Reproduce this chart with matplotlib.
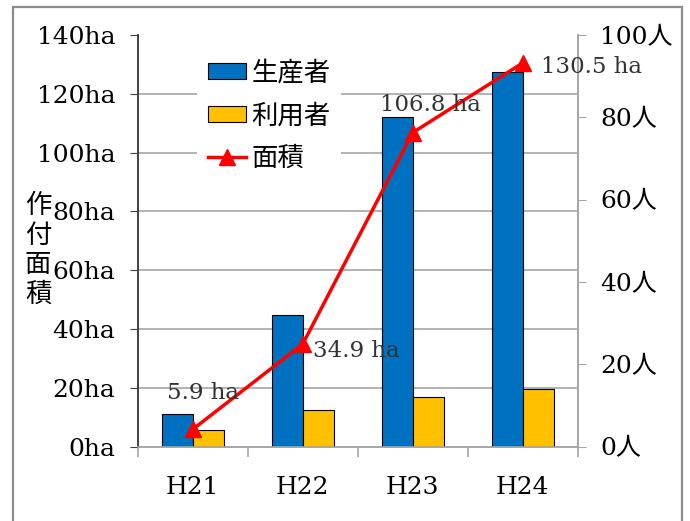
import numpy as np
import matplotlib
matplotlib.use('Agg')
import matplotlib.pyplot as plt
from matplotlib.patches import Rectangle

plt.rcParams['font.family'] = ['DejaVu Serif', 'Noto Sans CJK JP']

# data
years = ['H21', 'H22', 'H23', 'H24']
producers = [8, 32, 80, 91]      # 人
users = [4, 9, 12, 14]           # 人
area = [5.9, 34.9, 106.8, 130.5]  # ha

ha_ticks = np.arange(0, 141, 20)
ppl_ticks = np.arange(0, 101, 20)
ha_max = 140
ppl_max = 100

blue = '#0070C0'
yellow = '#FFC000'
red = '#FF0000'
grid_c = '#A6A6A6'

fig = plt.figure(figsize=(6.9, 5.21), dpi=100)
ax = fig.add_axes([0.1996, 0.1426, 0.6377, 0.7902])
ax_ha = ax.twinx()

x = np.arange(len(years))
w = 0.28

# bars on the people axis (right side)
b1 = ax.bar(x - w / 2, producers, w, color=blue, edgecolor='black', linewidth=0.8, zorder=3, label='生産者')
b2 = ax.bar(x + w / 2, users, w, color=yellow, edgecolor='black', linewidth=0.8, zorder=3, label='利用者')
ax.set_ylim(0, ppl_max)
ax.set_xlim(-0.5, len(years) - 0.5)
ax.yaxis.tick_right()
ax.set_yticks(ppl_ticks)
ax.set_yticklabels([f'{v}人' for v in ppl_ticks], fontsize=18)
# gridlines follow the ha scale
ax.set_yticks(ha_ticks * ppl_max / ha_max, minor=True)
ax.grid(which='minor', axis='y', color=grid_c, linewidth=1.2, zorder=0)
ax.tick_params(axis='y', which='minor', length=0)
ax.tick_params(axis='y', which='major', direction='out', length=6, color=grid_c, pad=10)
ax.set_axisbelow(True)

ax.set_xticks(x)
ax.set_xticklabels(years, fontsize=18)
ax.set_xticks(np.arange(-0.5, len(years)), minor=True)
ax.tick_params(axis='x', which='major', length=0, pad=21)
ax.tick_params(axis='x', which='minor', length=7, color=grid_c, width=1.2)

# line on the ha axis (left side)
ln, = ax_ha.plot(x, area, color=red, linewidth=2.5, marker='^', markersize=12, label='面積', zorder=5)
ax_ha.set_ylim(0, ha_max)
ax_ha.yaxis.tick_left()
ax_ha.set_yticks(ha_ticks)
ax_ha.set_yticklabels([f'{v}ha' for v in ha_ticks], fontsize=18)
ax_ha.tick_params(axis='y', direction='out', length=6, color='#404040', pad=10)

label_offsets = [(10, 36, 'center'), (10, -7, 'left'), (18, 28, 'center'), (18, -4, 'left')]
for xi, v, (dx, dy, ha) in zip(x, area, label_offsets):
    ax_ha.annotate(f'{v} ha', (xi, v), xytext=(dx, dy), textcoords='offset pixels',
                   ha=ha, va='center', fontsize=16.5, color='#333333', zorder=6)

for a in (ax, ax_ha):
    a.spines['top'].set_visible(False)
    a.spines['right'].set_color(grid_c)
    a.spines['bottom'].set_color(grid_c)
    a.spines['left'].set_color('#404040')
    for s in a.spines.values():
        s.set_linewidth(1.2)

fig.text(25 / 690, 1 - 250 / 521, '作\n付\n面\n積', fontsize=19, ha='left', va='center', linespacing=1.24)

leg = ax_ha.legend([b1, b2, ln], ['生産者', '利用者', '面積'], loc='upper left',
                   bbox_to_anchor=(0.286, 0.904), bbox_transform=fig.transFigure,
                   fontsize=19, frameon=True, framealpha=1, facecolor='white', edgecolor='none',
                   fancybox=False, borderpad=0.4, borderaxespad=0, labelspacing=0.67,
                   handlelength=1.45, handleheight=0.57, handletextpad=0.2)
leg.set_zorder(10)

fig.patches.append(Rectangle((13 / 690, -0.05), (682 - 13) / 690, 0.05 + 1 - 7 / 521,
                             transform=fig.transFigure, fill=False, edgecolor='#8C8C8C',
                             linewidth=1.6, clip_on=False))

fig.savefig('out.png', dpi=100)
